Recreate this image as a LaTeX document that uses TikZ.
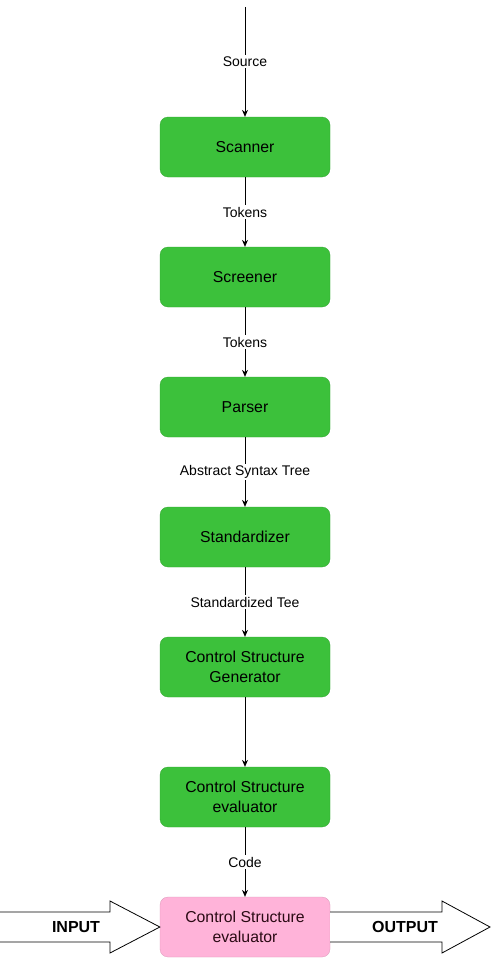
\documentclass[tikz,border=0pt]{standalone}
\usepackage{fontspec}
\setmainfont{Liberation Sans}
\usetikzlibrary{arrows.meta,shapes.arrows}
\definecolor{boxgreen}{HTML}{3CC13B}
\definecolor{boxpink}{HTML}{FFB3D9}
\definecolor{pinktext}{HTML}{2A0A14}
\begin{document}
\begin{tikzpicture}[x=1pt,y=-1pt,
  stagebox/.style={rounded corners=8pt, fill=boxgreen, draw=boxgreen!85!black, line width=0.3pt, minimum width=170pt, minimum height=60pt, align=center, font=\fontsize{15.8}{20}\selectfont, inner sep=0pt},
  conn/.style={draw=black, line width=0.9pt, -{Stealth[length=7pt,width=6pt]}},
  lbl/.style={fill=white, font=\fontsize{14}{16}\selectfont, inner sep=1.5pt},
  bigarrow/.style={draw=black, fill=white, line width=0.8pt}
]
\useasboundingbox (0,0) rectangle (491,958);
\fill[white] (0,0) rectangle (491,958);

\coordinate (top) at (245,7);
\node[stagebox] (scan) at (245,147) {Scanner};
\node[stagebox] (scr) at (245,277) {Screener};
\node[stagebox] (par) at (245,407) {Parser};
\node[stagebox] (std) at (245,537) {Standardizer};
\node[stagebox] (csg) at (245,667) {Control Structure\\Generator};
\node[stagebox] (cse) at (245,797) {Control Structure\\evaluator};
\node[stagebox, fill=boxpink, draw=boxpink!85!black, text=pinktext] (csp) at (245,927) {Control Structure\\evaluator};

\draw[conn] (top) -- node[lbl,pos=0.5] {Source} (scan.north);
\draw[conn] (scan) -- node[lbl] {Tokens} (scr);
\draw[conn] (scr) -- node[lbl] {Tokens} (par);
\draw[conn] (par) -- node[lbl] {Abstract Syntax Tree} (std);
\draw[conn] (std) -- node[lbl] {Standardized Tee} (csg);
\draw[conn] (csg) -- (cse);
\draw[conn] (cse) -- node[lbl] {Code} (csp);

% INPUT arrow
\draw[bigarrow] (0,912) -- (110,912) -- (110,901) -- (csp.west) -- (110,953) -- (110,942) -- (0,942);
\node[font=\bfseries\fontsize{16}{18}\selectfont] (intext) at (76,927) {INPUT};
% OUTPUT arrow
\coordinate (outTip) at (490,927);
\draw[bigarrow] (csp.east) ++(0,-15) -- (442,912) -- (442,901) -- (outTip) -- (442,953) -- (442,942) -- (330,942);
\node[font=\bfseries\fontsize{16}{18}\selectfont] (outtext) at (405,927) {OUTPUT};
\end{tikzpicture}
\end{document}
